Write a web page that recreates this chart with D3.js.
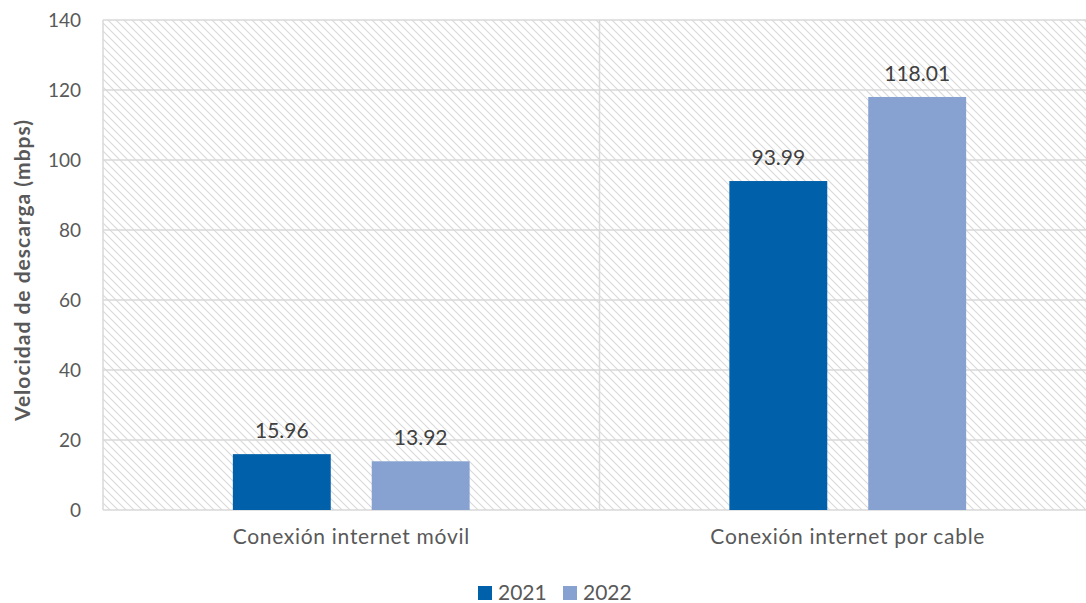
<!DOCTYPE html>
<html><head><meta charset="utf-8">
<script src="https://cdn.jsdelivr.net/npm/d3@7"></script>
<style>body{margin:0;background:#fff;}svg{display:block;font-family:Lato,sans-serif;}</style>
</head><body><svg id="c" width="1086" height="603"></svg>
<script>
const categories = ["Conexión internet móvil", "Conexión internet por cable"];
const seriesNames = ["2021", "2022"];
const values2021 = [15.96, 93.99];
const values2022 = [13.92, 118.01];
const yTicks = [0, 20, 40, 60, 80, 100, 120, 140];
const yTitle = "Velocidad de descarga (mbps)";

const colors = {"2021": "#0060A9", "2022": "#87A2D0"};
const svg = d3.select("#c");
const m = {left: 103, right: 1096, top: 20, bottom: 510};

const defs = svg.append("defs");
const pat = defs.append("pattern").attr("id","hatch").attr("patternUnits","userSpaceOnUse")
  .attr("width",8).attr("height",8);
pat.append("rect").attr("width",8).attr("height",8).attr("fill","#fff");
pat.append("path").attr("d","M-2,-2 L10,10 M-2,6 L2,10 M6,-2 L10,2").attr("stroke","#d9d9d9").attr("stroke-width",1.1);

const x0 = d3.scaleBand().domain(categories).range([m.left, m.right]).paddingInner(0).paddingOuter(0);
const x1 = d3.scaleBand().domain(seriesNames).range([0, x0.bandwidth()]).paddingInner(0.295).paddingOuter(0.935);
const y = d3.scaleLinear().domain([0, 140]).range([m.bottom, m.top]);

svg.append("rect").attr("x", m.left).attr("y", m.top).attr("width", m.right - m.left).attr("height", m.bottom - m.top).attr("fill","url(#hatch)");

svg.append("g").selectAll("line").data(yTicks).join("line")
  .attr("x1", m.left).attr("x2", m.right).attr("y1", d=>y(d)).attr("y2", d=>y(d))
  .attr("stroke","#d9d9d9").attr("stroke-width",1.5);
svg.append("g").selectAll("line").data([m.left, m.left + x0.bandwidth()]).join("line")
  .attr("x1", d=>d).attr("x2", d=>d).attr("y1", m.top).attr("y2", m.bottom)
  .attr("stroke","#d9d9d9").attr("stroke-width",1.5);

const yAxis = d3.axisLeft(y).tickValues(yTicks).tickSize(0).tickPadding(22);
const ga = svg.append("g").attr("transform",`translate(${m.left},0)`).call(yAxis);
ga.select(".domain").remove();
ga.selectAll("text").attr("font-size",19).attr("fill","#595959").attr("font-family","Lato");

const xAxis = d3.axisBottom(x0).tickSize(0).tickPadding(19);
const gx = svg.append("g").attr("transform",`translate(0,${m.bottom})`).call(xAxis);
gx.select(".domain").remove();
gx.selectAll("text").attr("font-size",21).attr("letter-spacing",0.7).attr("fill","#595959").attr("font-family","Lato");

const data = categories.map((c,i)=>({cat:c, vals:[{s:"2021",v:values2021[i]},{s:"2022",v:values2022[i]}]}));
const g = svg.append("g").selectAll("g").data(data).join("g").attr("transform", d=>`translate(${x0(d.cat)},0)`);
g.selectAll("rect").data(d=>d.vals).join("rect")
  .attr("x", d=>x1(d.s)).attr("width", x1.bandwidth())
  .attr("y", d=>y(d.v)).attr("height", d=>y(0)-y(d.v)).attr("fill", d=>colors[d.s]);
g.selectAll("text").data(d=>d.vals).join("text")
  .attr("x", d=>x1(d.s)+x1.bandwidth()/2).attr("y", d=>y(d.v)-16)
  .attr("text-anchor","middle").attr("font-size",21).attr("fill","#404040").text(d=>d.v.toFixed(2));

svg.append("text").attr("transform",`translate(30,${(m.top+m.bottom)/2 + 5}) rotate(-90)`)
  .attr("text-anchor","middle").attr("font-size",21).attr("letter-spacing",1).attr("font-weight","bold").attr("fill","#595959").text(yTitle);

const leg = svg.append("g").attr("transform","translate(478,586)");
const items = leg.selectAll("g").data(seriesNames).join("g").attr("transform",(d,i)=>`translate(${i*85},0)`);
items.append("rect").attr("width",14).attr("height",14).attr("fill",d=>colors[d]);
items.append("text").attr("x",20).attr("y",14).attr("font-size",21).attr("fill","#595959").text(d=>d);
</script></body></html>
